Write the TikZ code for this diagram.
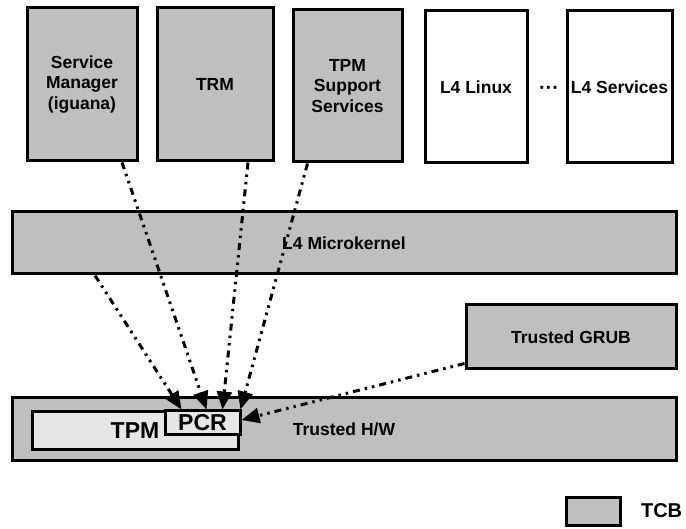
\documentclass[tikz,border=0pt]{standalone}
\usepackage{fontspec}
\setmainfont{Liberation Sans}
\usetikzlibrary{arrows.meta, positioning, calc}
\definecolor{tcbgray}{HTML}{BFBFBF}
\definecolor{tpmgray}{HTML}{E6E6E6}

\begin{document}
\begin{tikzpicture}[x=1pt, y=-1pt,
      layer/.style={draw, line width=3pt, align=center, inner sep=0pt,
        font=\fontsize{17.5}{20.5}\selectfont\bfseries},
      tcb/.style={layer, fill=tcbgray},
      untrusted/.style={layer, fill=white},
      chip/.style={draw, line width=3pt, fill=tpmgray, inner sep=0pt,
        font=\fontsize{23}{26}\selectfont\bfseries},
      measure/.style={line width=3pt,
        dash pattern=on 7pt off 5pt on 2.5pt off 5pt on 2.5pt off 5pt,
        -{Triangle[length=18pt, width=15pt]}}
    ]
      \useasboundingbox (0,0) rectangle (686,529);
      % user level
      \node[tcb, minimum width=110pt, minimum height=153pt] (manager)
        at (82,84.5) {Service\\Manager\\(iguana)};
      \node[tcb, minimum width=116pt, minimum height=153pt] (trm)
        at (215,84.5) {TRM};
      \node[tcb, minimum width=109pt, minimum height=152pt] (support)
        at (347.5,86) {TPM\\Support\\Services};
      \node[untrusted, minimum width=102pt, minimum height=152pt] (linux)
        at (476,87) {L4 Linux};
      \node[untrusted, minimum width=105pt, minimum height=152pt] (services)
        at (619.5,87) {L4 Services};
      \node[font=\fontsize{20}{22}\selectfont\bfseries] (more)
        at (549,90) {···};
      % kernel, loader and hardware
      \node[tcb, minimum width=664pt, minimum height=62pt] (kernel)
        at (344,243) {L4 Microkernel};
      \node[tcb, minimum width=210pt, minimum height=64pt] (grub)
        at (571,337) {Trusted GRUB};
      \node[tcb, minimum width=664pt, minimum height=63pt] (hw)
        at (344,429.5) {Trusted H/W};
      \node[chip, minimum width=206pt, minimum height=38pt] (tpm)
        at (135,431) {TPM};
      \node[chip, minimum width=75pt, minimum height=24pt] (pcr)
        at (202.5,423) {PCR};
      % legend
      \node[tcb, minimum width=54pt, minimum height=28pt] (key)
        at (593,511) {};
      \node[font=\fontsize{20}{23}\selectfont\bfseries, right=16pt of key]
        (keytext) {TCB};
      % measurements into the PCR
      \draw[measure] ([xshift=-249pt]kernel.south) -- ([xshift=18pt]pcr.north west);
      \draw[measure] ([xshift=40pt]manager.south) -- ([xshift=4pt]pcr.north);
      \draw[measure] ([xshift=33pt]trm.south) -- ([xshift=20pt]pcr.north);
      \draw[measure] ([xshift=-40pt]support.south) -- ([xshift=-1pt]pcr.north east);
      \draw[measure] ([yshift=7pt]grub.south west) -- ([yshift=3pt]pcr.east);
    \end{tikzpicture}
\end{document}
